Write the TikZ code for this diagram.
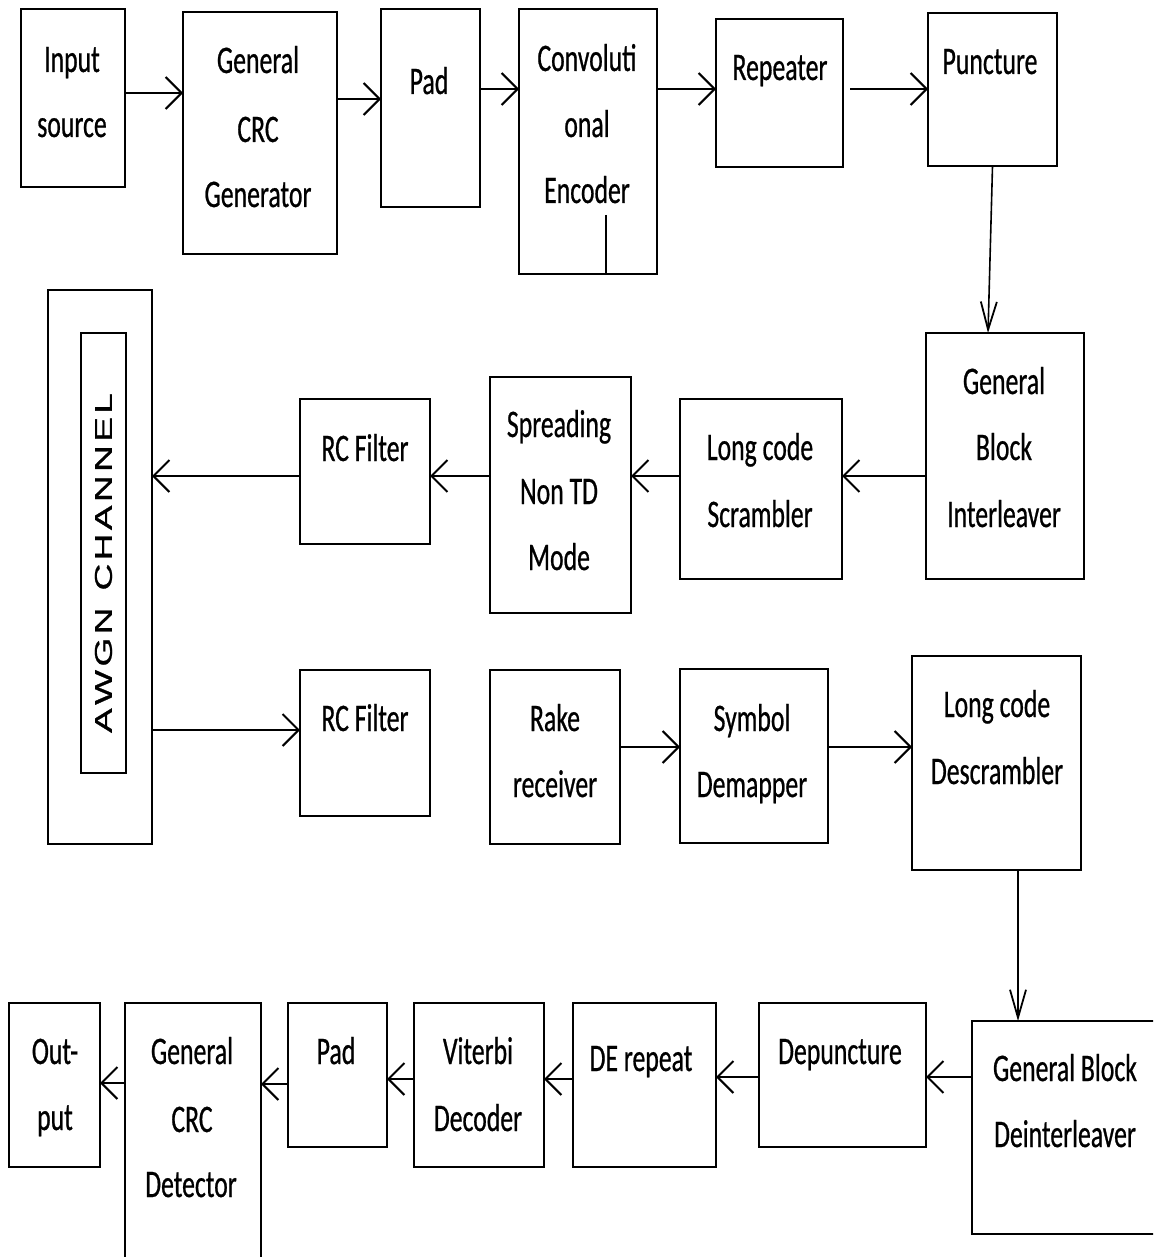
\documentclass[tikz,border=0pt]{standalone}
\usepackage{fontspec}
\usepackage{graphicx}
\usetikzlibrary{arrows.meta}
\newfontfamily\calfont[FakeStretch=0.66,FakeBold=0.6]{Carlito}
\newfontfamily\arialfont[FakeBold=0.8]{Liberation Sans}
\tikzset{
  blk/.style={draw, line width=2.5pt, rectangle, inner sep=0pt, outer sep=0pt, anchor=north west},
  txt/.style={anchor=base, inner sep=0pt, font=\calfont\fontsize{39}{47}\selectfont},
  arr/.style={line width=2.6pt, -{Straight Barb[length=16pt, width=32pt, line width=2pt]}},
  varr/.style={line width=1.6pt, -{Straight Barb[length=28pt, width=16pt, line width=1.8pt]}},
}
\newcommand\myblk[5]{\node[blk, minimum width={(#4-#2)*1pt}, minimum height={(#5-#3)*1pt}] (#1) at (#2,#3) {};}
\newcommand\tl[4]{\node[txt] (#1) at (#2,#3) {#4};}
\newcommand\ls{\kern0.09em}
\begin{document}
\begin{tikzpicture}[x=1pt,y=-1pt]
\useasboundingbox (0,0) rectangle (1153,1257);
\clip (0,0) rectangle (1153,1257);
\fill[white] (0,0) rectangle (1153,1257);
% boxes
\myblk{in}{21}{9}{125}{187}
\myblk{crc}{183}{12}{337}{254}
\myblk{pad}{381}{9}{480}{207}
\myblk{conv}{519}{9}{657}{274}
\myblk{rep}{716}{19}{843}{167}
\myblk{punc}{928}{13}{1057}{166}
\myblk{il}{926}{333}{1084}{579}
\myblk{scr}{680}{399}{842}{579}
\myblk{spr}{490}{377}{631}{613}
\myblk{rcA}{300}{399}{430}{544}
\myblk{awgn}{48}{290}{152}{844}
\myblk{awgnin}{81}{333}{126}{773}
\myblk{rcB}{300}{670}{430}{816}
\myblk{rake}{490}{670}{620}{844}
\myblk{sym}{680}{669}{828}{843}
\myblk{desc}{912}{656}{1081}{870}
\myblk{deil}{972}{1021}{1180}{1234}
\myblk{depu}{759}{1003}{926}{1147}
\myblk{derep}{573}{1003}{716}{1167}
\myblk{vit}{414}{1003}{544}{1167}
\myblk{padB}{288}{1003}{387}{1147}
\myblk{crcd}{125}{1003}{261}{1280}
\myblk{out}{9}{1003}{100}{1167}
\draw[line width=2.5pt] (606,215) -- (606,0 |- conv.south);
% texts
\tl{t1}{72}{72}{Input}
\tl{t2}{72}{137}{source}
\tl{t3}{258}{73}{General}
\tl{t4}{258}{142}{CRC}
\tl{t5}{258}{207}{Generator}
\tl{t6}{429}{94}{Pad}
\tl{t7}{587}{71}{Convoluti}
\tl{t8}{587}{137}{onal}
\tl{t9}{587}{203}{Encoder}
\tl{t10}{780}{80}{Repeater}
\tl{t11}{990}{74}{Puncture}
\tl{t12}{1004}{394}{General}
\tl{t13}{1004}{460}{Block}
\tl{t14}{1004}{527}{Interleaver}
\tl{t15}{760}{460}{Long code}
\tl{t16}{760}{527}{Scrambler}
\tl{t17}{559}{437}{Spreading}
\tl{t18}{559}{504}{Non TD}
\tl{t19}{559}{570}{Mode}
\tl{t20}{365}{461}{RC Filter}
\tl{t21}{365}{731}{RC Filter}
\tl{t22}{555}{731}{Rake}
\tl{t23}{555}{797}{receiver}
\tl{t24}{752}{731}{Symbol}
\tl{t25}{752}{797}{Demapper}
\tl{t26}{997}{717}{Long code}
\tl{t27}{997}{784}{Descrambler}
\tl{t28}{55}{1064}{Out-}
\tl{t29}{55}{1130}{put}
\tl{t30}{192}{1064}{General}
\tl{t31}{192}{1132}{CRC}
\tl{t32}{191}{1197}{Detector}
\tl{t33}{336}{1064}{Pad}
\tl{t34}{478}{1064}{Viterbi}
\tl{t35}{478}{1131}{Decoder}
\tl{t36}{641}{1071}{DE repeat}
\tl{t37}{840}{1064}{Depuncture}
\tl{t38}{1065}{1081}{General Block}
\tl{t39}{1065}{1147}{Deinterleaver}
\node[rotate=90, inner sep=0pt] (awgntxt) at (103.5,563) {\resizebox{340pt}{17pt}{\arialfont A\ls W\ls G\ls N\ls\ \ls C\ls H\ls A\ls N\ls N\ls E\ls L}};
% connectors
\draw[arr] (in.east |- 0,93) -- (crc.west |- 0,93);
\draw[arr] (crc.east |- 0,99) -- (pad.west |- 0,99);
\draw[arr] (pad.east |- 0,89) -- (conv.west |- 0,89);
\draw[arr] (conv.east |- 0,89) -- (rep.west |- 0,89);
\draw[arr, shorten <=7pt] (rep.east |- 0,89) -- (punc.west |- 0,89);
\draw[varr] (punc.south) -- (988,0 |- il.north);
\draw[arr] (il.west |- 0,476) -- (scr.east |- 0,476);
\draw[arr] (scr.west |- 0,476) -- (spr.east |- 0,476);
\draw[arr] (spr.west |- 0,476) -- (rcA.east |- 0,476);
\draw[arr] (rcA.west |- 0,476) -- (awgn.east |- 0,476);
\draw[arr] (awgn.east |- 0,730) -- (rcB.west |- 0,730);
\draw[arr] (rake.east |- 0,747) -- (sym.west |- 0,747);
\draw[arr] (sym.east |- 0,747) -- (desc.west |- 0,747);
\draw[varr] (1018,0 |- desc.south) -- (1018,0 |- deil.north);
\draw[arr] (deil.west |- 0,1077) -- (depu.east |- 0,1077);
\draw[arr] (depu.west |- 0,1077) -- (derep.east |- 0,1077);
\draw[arr] (derep.west |- 0,1079) -- (vit.east |- 0,1079);
\draw[arr] (vit.west |- 0,1079) -- (padB.east |- 0,1079);
\draw[arr] (padB.west |- 0,1084) -- (crcd.east |- 0,1084);
\draw[arr] (crcd.west |- 0,1083) -- (out.east |- 0,1083);
\end{tikzpicture}
\end{document}
